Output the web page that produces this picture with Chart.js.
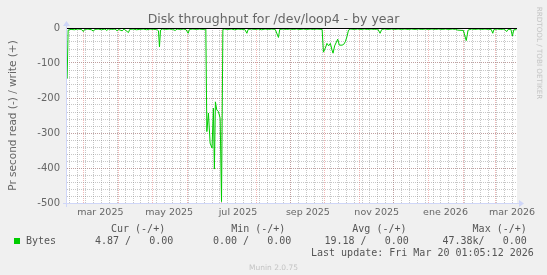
<!DOCTYPE html>
<html><head><meta charset="utf-8">
<script src="https://cdn.jsdelivr.net/npm/chart.js@4/dist/chart.umd.min.js"></script>
<style>html,body{margin:0;padding:0;background:#F0F0F0;overflow:hidden}canvas{display:block}</style>
</head><body>
<canvas id="c" width="547" height="275"></canvas>
<script>
// ---- data (days counted from 1 Mar 2025) ----
const readDays = [-14.5,-13.6,-11,-8,-5,-2,0,1,4,7,8.9,10,13,16,19,20.7,22,25,28,29.9,31,34.3,36,38.7,39.9,41,44,47,50,53,56,59,62,65,66.5,67.4,68.3,70,73,76,79,81.3,83,86,89,91,92.8,94,97,100,103,106,108.5,109.4,110.8,112.3,114,115.2,116.1,117,118.2,119.7,121.2,122.4,123.6,125,128,131,134,137,140,143,144.9,146,149,152,155,158,161,164,167,170,172.9,174,177,180,183,186,189,192,195,198,201,204,207,211.6,212.8,214.4,215.9,217.4,218.9,220.4,221.3,222.7,224.3,225.4,226.9,229.3,230.7,232.2,233.6,235,237,240,243,246,249,252,255,258,261,263,264.5,267,270,273,276,279,282,285,288,291,294,297,300,303,306,309,312,315,318,321,324,327,330,332,336.8,339.4,341,344,347,350,353,356,359,361.5,362.9,364,367,370,373,375.3,376.5,379,380.3,381.6,384];
const readValues = [-145,-6,-4,-5,-3,-4,-10,-4,-3,-5,-9,-4,-3,-5,-3,-7,-3,-4,-3,-8,-4,-8,-3,-10,-13,-4,-3,-5,-4,-3,-5,-3,-4,-4,-8,-54,-6,-3,-4,-3,-4,-7,-3,-4,-3,-5,-15,-4,-3,-4,-3,-4,-3,-296,-243,-329,-343,-229,-403,-211,-234,-239,-258,-496,-4,-3,-4,-3,-5,-3,-4,-4,-15,-4,-3,-4,-3,-5,-3,-4,-3,-4,-27,-4,-3,-4,-3,-4,-3,-4,-3,-4,-3,-4,-3,-4,-69,-58,-44,-51,-44,-63,-72,-51,-40,-32,-49,-49,-47,-39,-25,-6,-3,-4,-3,-4,-3,-4,-3,-4,-3,-15,-4,-3,-4,-3,-4,-3,-4,-3,-4,-3,-4,-3,-4,-3,-4,-3,-4,-3,-4,-3,-4,-3,-4,-6,-7,-36,-6,-3,-4,-3,-4,-3,-4,-4,-15,-4,-3,-4,-3,-10,-4,-4,-23,-5,-4.87];
const writeDays = [-14.5, 384];
const writeValues = [0, 0];

const yTicks = [0, -100, -200, -300, -400, -500];
const monthLabels = ['mar 2025','may 2025','jul 2025','sep 2025','nov 2025','ene 2026','mar 2026'];
const monthLabelDays = [15, 76, 137, 199, 260, 321, 380];
const monthStartDays = [0, 31, 61, 92, 122, 153, 184, 214, 245, 275, 306, 337, 365];
const firstWeekDay = 2, weekStep = 7;
const xMin = -14.6, xMax = 384.4;

const legendHeaders = ['Cur (-/+)', 'Min (-/+)', 'Avg (-/+)', 'Max (-/+)'];
const legendValues = ['4.87 /   0.00', '0.00 /   0.00', '19.18 /   0.00', '47.38k/   0.00'];
const seriesName = 'Bytes';
const lastUpdate = 'Last update: Fri Mar 20 01:05:12 2026';

// ---- styles ----
const GREEN = '#00CC00';
const MGRID = 'rgba(230,110,110,0.5)';
const GRID = 'rgba(130,130,130,0.45)';
const AXIS = '#CFD6F8';
const FONT = '#666666';

Chart.defaults.font.family = "'DejaVu Sans'";
Chart.defaults.color = FONT;

const weekTicks = [];
for (let d = firstWeekDay - 21; d < xMax; d += weekStep) if (d > xMin) weekTicks.push(d);

const deco = {
  id: 'deco',
  beforeDraw(chart) {
    const {ctx, chartArea: a} = chart;
    ctx.save();
    ctx.fillStyle = '#F0F0F0';
    ctx.fillRect(0, 0, chart.width, chart.height);
    ctx.fillStyle = '#FFFFFF';
    ctx.fillRect(a.left, a.top, a.right - a.left, a.bottom - a.top);
    ctx.restore();
  },
  afterDatasetsDraw(chart) {
    const {ctx, chartArea: a, scales} = chart;
    ctx.save();
    const y0 = Math.round(scales.y.getPixelForValue(0)) + 0.5;
    ctx.strokeStyle = '#000000'; ctx.lineWidth = 1;
    ctx.beginPath(); ctx.moveTo(a.left, y0); ctx.lineTo(a.right, y0); ctx.stroke();
    ctx.strokeStyle = AXIS; ctx.fillStyle = AXIS;
    const xb = a.bottom + 0.5, xl = a.left - 0.5;
    ctx.beginPath(); ctx.moveTo(a.left - 4, xb); ctx.lineTo(a.right + 3, xb); ctx.stroke();
    ctx.beginPath(); ctx.moveTo(a.right + 2, xb - 3.5); ctx.lineTo(a.right + 7, xb); ctx.lineTo(a.right + 2, xb + 3.5); ctx.closePath(); ctx.fill();
    ctx.beginPath(); ctx.moveTo(xl, a.bottom + 4); ctx.lineTo(xl, a.top - 3); ctx.stroke();
    ctx.beginPath(); ctx.moveTo(xl - 3.5, a.top - 2); ctx.lineTo(xl, a.top - 7); ctx.lineTo(xl + 3.5, a.top - 2); ctx.closePath(); ctx.fill();
    ctx.restore();
  },
  afterDraw(chart) {
    const {ctx} = chart;
    ctx.save();
    ctx.fillStyle = FONT;
    ctx.textBaseline = 'alphabetic';
    ctx.font = "12.5px 'DejaVu Sans'";
    ctx.textAlign = 'center';
    ctx.fillText('Disk throughput for /dev/loop4 - by year', 273.5, 23);
    ctx.save();
    ctx.translate(16, 115.5);
    ctx.rotate(-Math.PI / 2);
    ctx.font = "10.5px 'DejaVu Sans'";
    ctx.textAlign = 'center';
    ctx.fillText('Pr second read (-) / write (+)', 0, 0);
    ctx.restore();
    ctx.save();
    ctx.translate(537, 53);
    ctx.rotate(Math.PI / 2);
    ctx.font = "7.2px 'DejaVu Sans'";
    ctx.fillStyle = '#C4C4C4';
    ctx.textAlign = 'center';
    ctx.fillText('RRDTOOL / TOBI OETIKER', 0, 0);
    ctx.restore();
    ctx.font = "10px 'DejaVu Sans Mono'";
    ctx.fillStyle = '#555555';
    ctx.textAlign = 'left';
    const hx = [111, 231.2, 352.3, 472.6];
    legendHeaders.forEach((t, i) => ctx.fillText(t, hx[i], 232));
    ctx.fillText(seriesName, 26, 244);
    const vx = [95, 213, 324.5, 442.5];
    legendValues.forEach((t, i) => ctx.fillText(t, vx[i], 244));
    ctx.fillText(lastUpdate, 311, 256);
    ctx.fillStyle = GREEN;
    ctx.fillRect(14, 238, 6, 6);
    ctx.font = "7.5px 'DejaVu Sans'";
    ctx.fillStyle = '#C4C4C4';
    ctx.textAlign = 'center';
    ctx.fillText('Munin 2.0.75', 273.5, 270);
    ctx.restore();
  }
};

const gridAxis = (ticks, color, z) => ({
  type: 'linear', min: xMin, max: xMax, position: 'bottom',
  afterBuildTicks: s => { s.ticks = ticks.map(v => ({value: v})); },
  ticks: {display: false},
  grid: {color: color, drawTicks: false, lineWidth: 1},
  border: {display: false, dash: [1, 1]},
  afterFit: s => { s.height = 0; },
  z: z
});

new Chart(document.getElementById('c'), {
  type: 'line',
  data: {
    datasets: [
      {label: 'read', data: readDays.map((d, i) => ({x: d, y: readValues[i]})), xAxisID: 'x', yAxisID: 'y',
       borderColor: GREEN, borderWidth: 1, pointRadius: 0, tension: 0, fill: false},
      {label: 'write', data: writeDays.map((d, i) => ({x: d, y: writeValues[i]})), xAxisID: 'x', yAxisID: 'y',
       borderColor: GREEN, borderWidth: 1, pointRadius: 0, tension: 0, fill: false}
    ]
  },
  options: {
    responsive: false, animation: false, events: [], devicePixelRatio: 1,
    layout: {padding: {top: 28, right: 30, left: 0, bottom: 0}},
    plugins: {legend: {display: false}, tooltip: {enabled: false}, title: {display: false}},
    scales: {
      x: {
        type: 'linear', min: xMin, max: xMax, position: 'bottom',
        afterBuildTicks: s => { s.ticks = monthLabelDays.map(v => ({value: v})); },
        ticks: {autoSkip: false, maxRotation: 0, padding: 4, color: FONT, font: {size: 9.5},
                callback: (v, i) => monthLabels[i]},
        grid: {display: false, drawTicks: false},
        border: {display: false},
        afterFit: s => { s.height = 72; }
      },
      xMonth: gridAxis(monthStartDays, MGRID, -1),
      xWeek: gridAxis(weekTicks, GRID, -2),
      y: {
        type: 'linear', min: -500, max: 0, position: 'left',
        afterBuildTicks: s => { s.ticks = yTicks.map(v => ({value: v})); },
        ticks: {padding: 7, color: FONT, font: {size: 10}},
        grid: {color: MGRID, drawTicks: false},
        border: {display: false, dash: [1, 1]},
        afterFit: s => { s.width = 67; },
        z: -1
      },
      yMinor: {
        type: 'linear', min: -500, max: 0, position: 'left',
        ticks: {display: false, stepSize: 20},
        grid: {color: GRID, drawTicks: false},
        border: {display: false, dash: [1, 1]},
        afterFit: s => { s.width = 0; },
        z: -2
      }
    }
  },
  plugins: [deco]
});
</script>
</body></html>
